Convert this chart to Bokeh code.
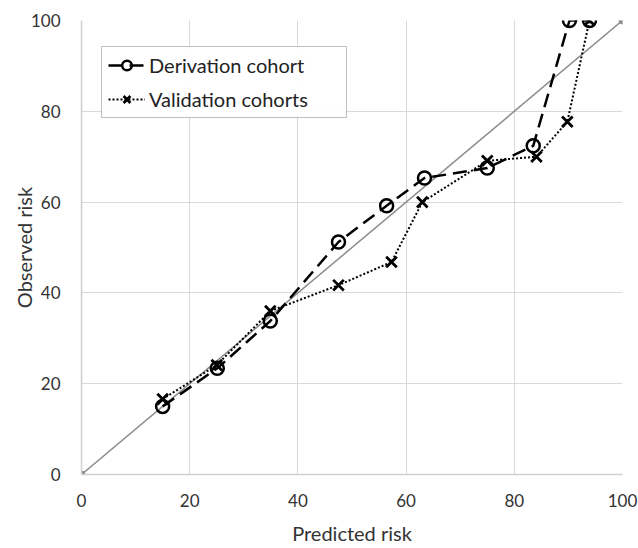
from bokeh.plotting import figure
from bokeh.models import Range1d, FixedTicker, Legend, LegendItem
from bokeh.embed import file_html
from bokeh.resources import INLINE

# Data
deriv_x = [15.0, 25.1, 34.9, 47.5, 56.4, 63.4, 75.0, 83.5, 90.2, 93.9]
deriv_y = [15.0, 23.4, 33.8, 51.2, 59.2, 65.3, 67.5, 72.4, 100.0, 100.0]
valid_x = [15.0, 25.0, 34.9, 47.5, 57.3, 63.0, 75.0, 84.1, 89.8, 93.9]
valid_y = [16.6, 24.1, 36.0, 41.7, 46.8, 60.0, 69.1, 70.0, 77.7, 100.0]
ident = [0, 100]
ticks = [0, 20, 40, 60, 80, 100]

FONT = "Lato"

p = figure(frame_width=541, frame_height=454, output_backend="svg", toolbar_location=None,
           x_range=Range1d(0, 100), y_range=Range1d(0, 100),
           min_border_left=81, min_border_right=16, min_border_top=20, min_border_bottom=60)
p.outline_line_color = None
p.border_fill_color = "white"

for ax in (p.xaxis, p.yaxis):
    ax.ticker = FixedTicker(ticks=ticks)
    ax.major_tick_line_color = None
    ax.minor_tick_line_color = None
    ax.axis_line_color = "#d0d0d0"
    ax.axis_line_width = 1.5
    ax.major_label_text_font = FONT
    ax.major_label_text_font_size = "17px"
    ax.major_label_text_color = "#333333"
    ax.axis_label_text_font = FONT
    ax.axis_label_text_font_size = "20px"
    ax.axis_label_text_font_style = "normal"
    ax.axis_label_text_color = "#333333"

p.xaxis.axis_label = "Predicted risk"
p.yaxis.axis_label = "Observed risk"
p.xaxis.major_label_standoff = 13
p.xaxis.axis_label_standoff = 11
p.yaxis.major_label_standoff = 15
p.yaxis.axis_label_standoff = -8

p.xgrid.ticker = FixedTicker(ticks=ticks)
p.ygrid.ticker = FixedTicker(ticks=ticks)
p.grid.grid_line_color = "#d9d9d9"
p.grid.grid_line_width = 1

# identity line
p.line(ident, ident, line_color="#8c8c8c", line_width=1.5)
p.scatter(ident, ident, marker="circle", size=7, fill_color="#8c8c8c", line_color="#8c8c8c")

# derivation cohort
dl = p.line(deriv_x, deriv_y, line_color="black", line_width=2.5, line_dash="14 7")
dm = p.scatter(deriv_x, deriv_y, marker="circle", size=13, fill_color="white", fill_alpha=0,
               line_color="black", line_width=2.5)

# validation cohorts
vl = p.line(valid_x, valid_y, line_color="black", line_width=2, line_dash="2 2")
vm = p.scatter(valid_x, valid_y, marker="x", size=15, line_color="black", line_width=2.8)

legend = Legend(items=[LegendItem(label="Derivation cohort", renderers=[dl, dm]),
                       LegendItem(label="Validation cohorts", renderers=[vl, vm])],
                location=(20, 356))
legend.label_text_font = FONT
legend.label_text_font_size = "20px"
legend.label_text_color = "#222222"
legend.border_line_color = "#7f7f7f"
legend.border_line_width = 1.2
legend.padding = 6
legend.spacing = 10
legend.glyph_width = 37
legend.glyph_height = 24
legend.label_height = 24
legend.label_width = 191
legend.label_standoff = 4
legend.margin = 0
legend.background_fill_color = "white"
p.add_layout(legend, "center")

open("out.html", "w").write(file_html(p, INLINE))
